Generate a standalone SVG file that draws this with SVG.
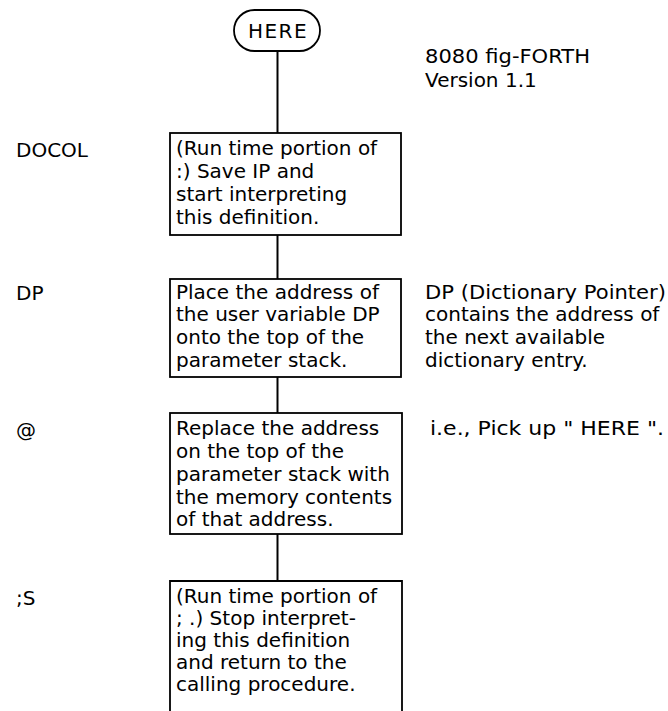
<svg xmlns="http://www.w3.org/2000/svg" width="668" height="711" viewBox="0 0 668 711">
<style>
text{font-family:"DejaVu Sans","Liberation Sans",sans-serif;font-size:20px;fill:#000}
.box{fill:#fff;stroke:#000;stroke-width:1.8}
.conn{stroke:#000;stroke-width:2;fill:none}
</style>
<rect width="668" height="711" fill="#fff"/>
<g id="connectors">
<line class="conn" x1="277.5" y1="51" x2="277.5" y2="133"/>
<line class="conn" x1="277.5" y1="235" x2="277.5" y2="279"/>
<line class="conn" x1="277.5" y1="377" x2="277.5" y2="413"/>
<line class="conn" x1="277.5" y1="534" x2="277.5" y2="581"/>
</g>
<g id="here">
<rect class="box" x="234" y="10" width="86" height="41" rx="20.5" ry="20.5"/>
<text x="278" y="38" text-anchor="middle" style="letter-spacing:1.5px">HERE</text>
</g>
<g id="title">
<text x="425" y="63" textLength="165" lengthAdjust="spacingAndGlyphs">8080 fig-FORTH</text>
<text x="425" y="87">Version 1.1</text>
</g>
<g id="docol">
<text x="16" y="157">DOCOL</text>
<rect class="box" x="170" y="133" width="231" height="102"/>
<text x="176" y="155">(Run time portion of</text>
<text x="176" y="178">:) Save IP and</text>
<text x="176" y="201">start interpreting</text>
<text x="176" y="224">this definition.</text>
</g>
<g id="dp">
<text x="16" y="300">DP</text>
<rect class="box" x="170" y="279" width="231" height="98"/>
<text x="176" y="299">Place the address of</text>
<text x="176" y="321">the user variable DP</text>
<text x="176" y="344">onto the top of the</text>
<text x="176" y="367">parameter stack.</text>
<text x="425" y="299" textLength="241" lengthAdjust="spacingAndGlyphs">DP (Dictionary Pointer)</text>
<text x="425" y="321">contains the address of</text>
<text x="425" y="344">the next available</text>
<text x="425" y="367">dictionary entry.</text>
</g>
<g id="fetch">
<text x="16" y="437">@</text>
<rect class="box" x="170" y="413" width="232" height="121"/>
<text x="176" y="435">Replace the address</text>
<text x="176" y="458">on the top of the</text>
<text x="176" y="481">parameter stack with</text>
<text x="176" y="504">the memory contents</text>
<text x="176" y="526">of that address.</text>
<text x="430" y="435" textLength="234" lengthAdjust="spacingAndGlyphs">i.e., Pick up " HERE ".</text>
</g>
<g id="semis">
<text x="16" y="605">;S</text>
<path class="box" d="M170 713 V581 H402 V713"/>
<text x="176" y="603">(Run time portion of</text>
<text x="176" y="625">; .) Stop interpret-</text>
<text x="176" y="647">ing this definition</text>
<text x="176" y="669">and return to the</text>
<text x="176" y="691">calling procedure.</text>
</g>
</svg>
